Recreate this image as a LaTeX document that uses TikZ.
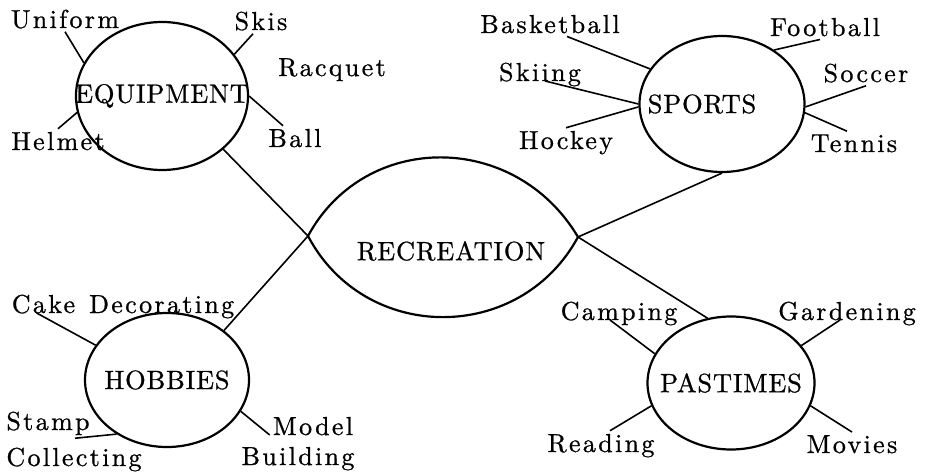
\documentclass[tikz,border=0pt]{standalone}
\usepackage{fontspec}
\usetikzlibrary{shapes.geometric}
\newfontfamily\labelfont{lmroman10-regular.otf}[LetterSpace=9,FakeBold=0.8]
\newfontfamily\topicfont{lmroman10-regular.otf}[LetterSpace=3,FakeBold=0.8]

\begin{document}
\begin{tikzpicture}[x=1pt,y=-1pt]
\useasboundingbox (0,0) rectangle (928,473);
\tikzset{TopicStyle/.style ={shape=ellipse,draw,line width=2.2pt,inner sep=0pt,font=\topicfont\fontsize{26.5}{30}\selectfont}}
\tikzset{TitleStyle/.style ={inner sep=0pt,font=\topicfont\fontsize{26.5}{30}\selectfont}}
\tikzset{LabelStyle/.style ={inner sep=3pt,anchor=base,font=\labelfont\fontsize{26}{30}\selectfont}}
\tikzset{EdgeStyle/.style ={line width=1.6pt}}
\node[TopicStyle,minimum width=172pt,minimum height=148pt] (equip) at (162,96) {\makebox[0pt]{EQUIPMENT}};
\node[TopicStyle,minimum width=165pt,minimum height=136pt] (sports) at (722,104) {\makebox[0pt]{SPORTS\hspace*{40pt}}};
\node[TopicStyle,minimum width=164pt,minimum height=134pt] (hobbies) at (167,380) {\makebox[0pt]{HOBBIES}};
\node[TopicStyle,minimum width=167pt,minimum height=133pt] (pastimes) at (731,383) {\makebox[0pt]{PASTIMES}};
\coordinate (lt) at (308,236);
\coordinate (rt) at (578,237);
\draw[line width=2.2pt] (lt) .. controls (365,131) and (515,131) .. (rt) .. controls (520,344) and (365,344) .. (lt);
\node[TitleStyle] (recreation) at (451,251) {RECREATION};
\draw[EdgeStyle] (equip.-41) -- (lt);
\draw[EdgeStyle] (hobbies.41) -- (lt);
\draw[EdgeStyle] (sports.south) -- (rt);
\draw[EdgeStyle] (pastimes.110) -- (rt);
\node[LabelStyle] (uniform) at (65,28) {Uniform};
\node[LabelStyle] (skis) at (261,30) {Skis};
\node[LabelStyle] (racquet) at (332,76) {Racquet};
\node[LabelStyle] (ball) at (295,147) {Ball};
\node[LabelStyle] (helmet) at (58,150) {Helmet};
\node[LabelStyle] (basketball) at (550,33) {Basketball};
\node[LabelStyle] (football) at (825,36) {Football};
\node[LabelStyle] (skiing) at (540,81) {Skiing};
\node[LabelStyle] (soccer) at (866,82) {Soccer};
\node[LabelStyle] (hockey) at (566,149) {Hockey};
\node[LabelStyle] (tennis) at (854,152) {Tennis};
\node[LabelStyle] (cake) at (123,313) {Cake\hspace{3pt} Decorating};
\node[LabelStyle] (stamp) at (48,430) {Stamp};
\node[LabelStyle] (collecting) at (74,466) {Collecting};
\node[LabelStyle] (model) at (313,435) {Model};
\node[LabelStyle] (building) at (298,465) {Building};
\node[LabelStyle] (camping) at (619,320) {Camping};
\node[LabelStyle] (gardening) at (847,320) {Gardening};
\node[LabelStyle] (reading) at (601,452) {Reading};
\node[LabelStyle] (movies) at (852,453) {Movies};
\draw[EdgeStyle] (uniform.south) -- (equip.157);
\draw[EdgeStyle] ([xshift=-8pt]skis.south) -- (equip.30);
\draw[EdgeStyle] ([xshift=-12pt]ball.north) -- (equip.east);
\draw[EdgeStyle] (helmet.north) -- (equip.191);
\draw[EdgeStyle] ([xshift=17pt]basketball.south) -- (sports.154);
\draw[EdgeStyle] ([xshift=-5pt]football.south) -- (sports.46);
\draw[EdgeStyle] ([xshift=5pt]skiing.base) -- (sports.west);
\draw[EdgeStyle] (soccer.south) -- (sports.-2);
\draw[EdgeStyle] (hockey.north) -- (sports.-178);
\draw[EdgeStyle] ([xshift=-7pt]tennis.north) -- (sports.-6);
\draw[EdgeStyle] ([xshift=28pt]cake.base west) -- (hobbies.154);
\draw[EdgeStyle] ([xshift=27pt]stamp.south) -- (hobbies.-133);
\draw[EdgeStyle] (model.base west) -- (hobbies.-23);
\draw[EdgeStyle] ([xshift=-9pt]camping.base) -- (pastimes.159);
\draw[EdgeStyle] ([xshift=-7pt]gardening.base) -- (pastimes.28);
\draw[EdgeStyle] ([xshift=9pt]reading.north) -- (pastimes.-164);
\draw[EdgeStyle] (movies.north) -- (pastimes.-16);
\end{tikzpicture}
\end{document}
